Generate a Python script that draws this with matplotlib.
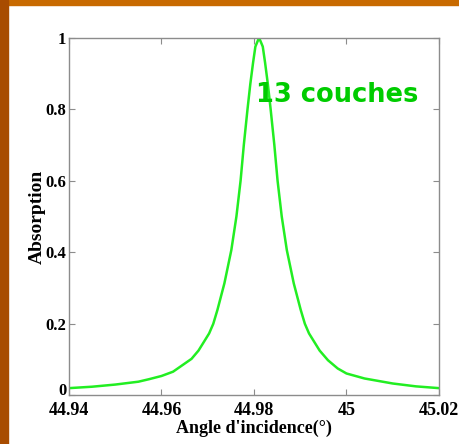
import numpy as np
import matplotlib
matplotlib.use("Agg")
from matplotlib import pyplot as plt
from matplotlib.patches import Rectangle

##################################################
# Data:
angle = [44.9400, 44.9450, 44.9500, 44.9550, 44.9573, 44.9600, 44.9625,
         44.9645, 44.9665, 44.9680, 44.9692, 44.9703, 44.9712, 44.9721,
         44.9736, 44.9751, 44.9762, 44.9771, 44.9778, 44.9786, 44.9792,
         44.9798, 44.9803, 44.9811, 44.9819, 44.9824,
         44.9830, 44.9836, 44.9844, 44.9851, 44.9860, 44.9871, 44.9886,
         44.9901, 44.9910, 44.9919, 44.9930, 44.9942, 44.9960, 44.9981,
         45.0000, 45.0039, 45.0100, 45.0150, 45.0200]
absorption = [0.020, 0.024, 0.030, 0.038, 0.045, 0.054, 0.066,
              0.084, 0.102, 0.125, 0.150, 0.173, 0.200, 0.239,
              0.313, 0.406, 0.500, 0.600, 0.700, 0.800, 0.870,
              0.930, 0.975, 1.000, 0.975, 0.930,
              0.870, 0.800, 0.700, 0.600, 0.500, 0.406, 0.313,
              0.239, 0.200, 0.173, 0.150, 0.125, 0.098, 0.075,
              0.061, 0.047, 0.033, 0.025, 0.020]

x_ticks = [44.94, 44.96, 44.98, 45.0, 45.02]
x_ticklabels = ["44.94", "44.96", "44.98", "45", "45.02"]
y_ticks = [0, 0.2, 0.4, 0.6, 0.8, 1.0]
y_ticklabels = ["0", "0.2", "0.4", "0.6", "0.8", "1"]

LINE_COLOR = "#22ee22"
TEXT_COLOR = "#00cc00"
AXIS_GREY = "#8c8c8c"
SERIF = "Liberation Serif"

##################################################
fig = plt.figure(figsize=(4.59, 4.44), dpi=100)
fig.patch.set_facecolor("white")

# slide border (orange top strip, brown left strip)
fig.patches.append(Rectangle((0, 1 - 5 / 444), 1, 5 / 444,
                             transform=fig.transFigure, color="#c86a00",
                             zorder=0))
fig.patches.append(Rectangle((0, 0), 8 / 459, 1,
                             transform=fig.transFigure, color="#a84c00",
                             zorder=0))

ax = fig.add_axes([0.1503, 0.1097, 0.8061, 0.8054])
ax.plot(angle, absorption, color=LINE_COLOR, linewidth=1.8, zorder=2)

ax.set_xlim(44.94, 45.02)
ax.set_ylim(0, 1)
ax.set_xticks(x_ticks)
ax.set_xticklabels(x_ticklabels, family=SERIF, weight="bold", size=13)
ax.set_yticks(y_ticks)
ax.set_yticklabels(y_ticklabels, family=SERIF, weight="bold", size=12)
# the "0" label sits on the axis line, just above the x tick labels
ax.get_yticklabels()[0].set_verticalalignment("baseline")

ax.tick_params(direction="in", length=4, width=0.8, color=AXIS_GREY,
               top=True, right=True, labelcolor="black")
ax.tick_params(axis="x", pad=5)
ax.tick_params(axis="y", pad=2)
for sp in ax.spines.values():
    sp.set_color(AXIS_GREY)
    sp.set_linewidth(1.0)

ax.set_xlabel("Angle d'incidence(°)", family=SERIF,
              weight="bold", size=13, labelpad=0)
ax.set_ylabel("Absorption", family=SERIF,
              weight="bold", size=14, labelpad=0)

ax.text(44.9805, 0.82, "13 couches", color=TEXT_COLOR, fontsize=18.5,
        fontweight="bold", family="DejaVu Sans", ha="left",
        va="baseline", zorder=3)

fig.savefig("out.png", dpi=100)
